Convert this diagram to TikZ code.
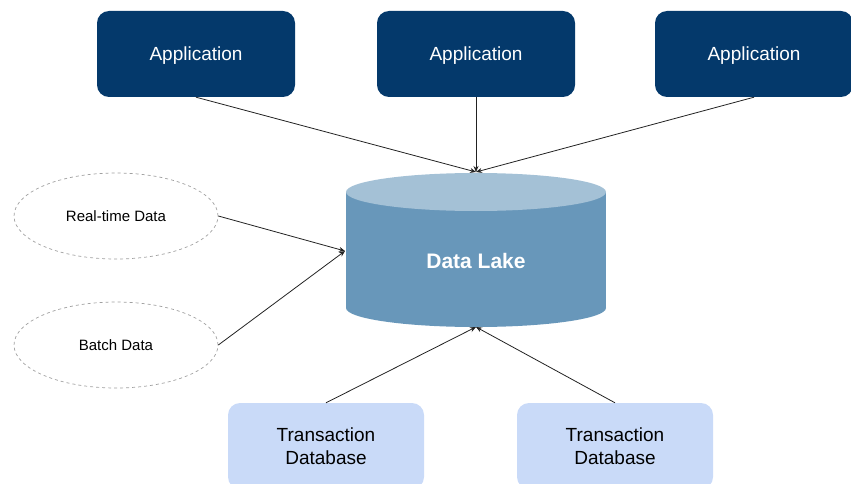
\documentclass[tikz,border=0pt]{standalone}
\usepackage{fontspec}
\setmainfont{Liberation Sans}
\usetikzlibrary{arrows.meta,shapes.geometric}
\definecolor{appblue}{HTML}{04396B}
\definecolor{dbblue}{HTML}{C9DAF8}
\definecolor{laketop}{HTML}{A4C1D6}
\definecolor{lakebody}{HTML}{6897BA}
\definecolor{flowline}{HTML}{222222}
\definecolor{dashgray}{HTML}{A0A0A0}
\begin{document}
\begin{tikzpicture}[x=1pt,y=-1pt,
  appbox/.style={fill=appblue, rounded corners=12pt, minimum width=198pt, minimum height=86pt,
    text=white, font=\fontsize{19}{23}\selectfont, inner sep=0pt, text depth=0pt},
  dbbox/.style={fill=dbblue, rounded corners=12pt, minimum width=196pt, minimum height=86pt,
    text=black, align=center, font=\fontsize{19}{23}\selectfont, inner sep=0pt},
  source/.style={draw=dashgray, dashed, line width=0.7pt, ellipse, minimum width=204pt,
    minimum height=86pt, inner sep=0pt, font=\fontsize{15}{18}\selectfont},
  flow/.style={draw=flowline, line width=0.8pt, -{Stealth[length=6pt,width=5pt]}}]
\useasboundingbox (0,0) rectangle (851,484);

% producers and consumers
\node[appbox] (app1) at (196,54) {Application};
\node[appbox] (app2) at (476,54) {Application};
\node[appbox] (app3) at (754,54) {Application};
\node[dbbox] (tdb1) at (326,446) {Transaction\\Database};
\node[dbbox] (tdb2) at (615,446) {Transaction\\Database};

% incoming data streams
\node[source] (rt) at (116,216) {Real-time Data};
\node[source] (batch) at (116,345) {Batch Data};

% the data lake cylinder
\fill[lakebody] (346,192) rectangle (606,308);
\fill[lakebody] (476,308) ellipse[x radius=130pt, y radius=19pt];
\fill[laketop] (476,192) ellipse[x radius=130pt, y radius=19pt];
\node[text=white, font=\fontsize{21}{25}\selectfont\bfseries] (lake) at (476,261) {Data Lake};
\coordinate (laketopin) at (476,172);
\coordinate (lakeleftin) at (345,251);
\coordinate (lakebotin) at (476,327);

% connectors
\draw[flow] (app1.south) -- (laketopin);
\draw[flow] (app2.south) -- (laketopin);
\draw[flow] (app3.south) -- (laketopin);
\draw[flow] (rt.east) -- (lakeleftin);
\draw[flow] (batch.east) -- (lakeleftin);
\draw[flow] (tdb1.north) -- (lakebotin);
\draw[flow] (tdb2.north) -- (lakebotin);
\end{tikzpicture}
\end{document}
